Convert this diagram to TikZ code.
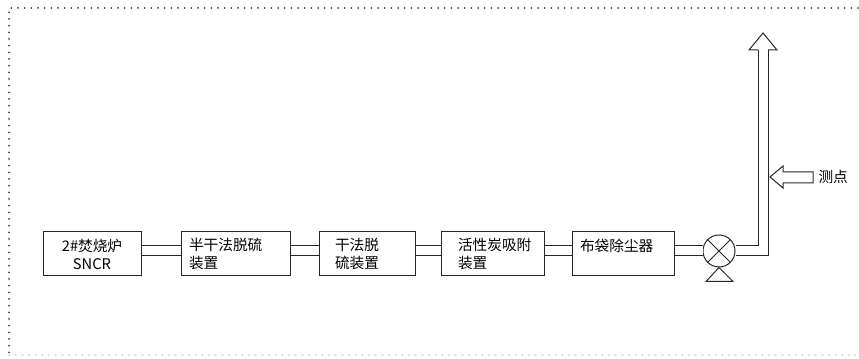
\documentclass[tikz,border=0pt]{standalone}
\usepackage{fontspec}
\newfontfamily\cjk{Noto Sans CJK SC}
\usetikzlibrary{calc}

\tikzset{every picture/.style={line width=0.75pt}}
\tikzset{
  unit/.style={draw=black!85, minimum height=33pt, inner ysep=0pt, align=left,
    font=\cjk\fontsize{11}{13.5}\selectfont},
  pipe/.style={draw=black!85, double=white, double distance=6.75pt},
  frame/.style={draw=black!75, line width=1.5pt, line cap=round, dash pattern=on 0pt off 5pt},
}

\begin{document}
\begin{tikzpicture}[x=0.75pt,y=0.75pt,yscale=-1,xscale=1]
        \useasboundingbox (0,0) rectangle (859,359);

        %Dotted frame
        \draw [frame] (858,8) -- (9,8) -- (9,355) ;
        \draw [frame, draw=black!20] (9,355) -- (858,355) ;

        %Process units
        \node [unit, align=center, minimum width=73.5pt] (furnace) at (92,254) {2\#焚烧炉\\SNCR};
        \node [unit, text width=69.75pt, inner xsep=6pt] (semidry) at (235.5,254) {半干法脱硫\\装置};
        \node [unit, text width=48pt, inner xsep=12pt] (drydesulf) at (367,254) {干法脱\\硫装置};
        \node [unit, text width=51.75pt, inner xsep=12.75pt] (carbon) at (492.5,254) {活性炭吸附\\装置};
        \node [unit, text width=64.5pt, inner xsep=6pt] (baghouse) at (623,254) {布袋除尘器\\\mbox{}};

        %Valve
        \node [circle, draw=black!85, minimum size=24pt, inner sep=0pt] (valve) at (719,251) {};
        \draw [black!85] (valve.north west) -- (valve.south east) (valve.north east) -- (valve.south west) ;
        \draw [black!85] (valve.south) -- ++(-13,14) -- ++(27,0) -- cycle ;

        %Pipes (yshift is flipped by yscale=-1)
        \draw [pipe] ([yshift=-2.25pt]furnace.east) -- ([yshift=-2.25pt]semidry.west) ;
        \draw [pipe] ([yshift=-2.25pt]semidry.east) -- ([yshift=-2.25pt]drydesulf.west) ;
        \draw [pipe] ([yshift=-2.25pt]drydesulf.east) -- ([yshift=-2.25pt]carbon.west) ;
        \draw [pipe] ([yshift=-2.25pt]carbon.east) -- ([yshift=-2.25pt]baghouse.west) ;
        \draw [pipe] ([yshift=-2.25pt]baghouse.east) -- (valve.west) ;

        %Stack
        \coordinate (stacktop) at (763,50) ;
        \draw [pipe] (valve.east) -| (stacktop) ;
        \draw [black!85] ($(stacktop)+(-5,0)$) -- ++(-9,0) -- (763,33) -- (777,50) -- ($(stacktop)+(5,0)$) ;

        %Measuring point
        \coordinate (tap) at (770,177) ;
        \draw [black!85] (tap) -- ++(13,-11) -- ++(0,6) -- ++(30,0) -- ++(0,11) -- ++(-30,0) -- ++(0,5) -- cycle ;

        % Text Node
        \node [anchor=west, inner sep=0.75pt, font=\cjk\fontsize{11}{13.5}\selectfont] (taplabel) at (817,177) {测点};

\end{tikzpicture}
\end{document}
